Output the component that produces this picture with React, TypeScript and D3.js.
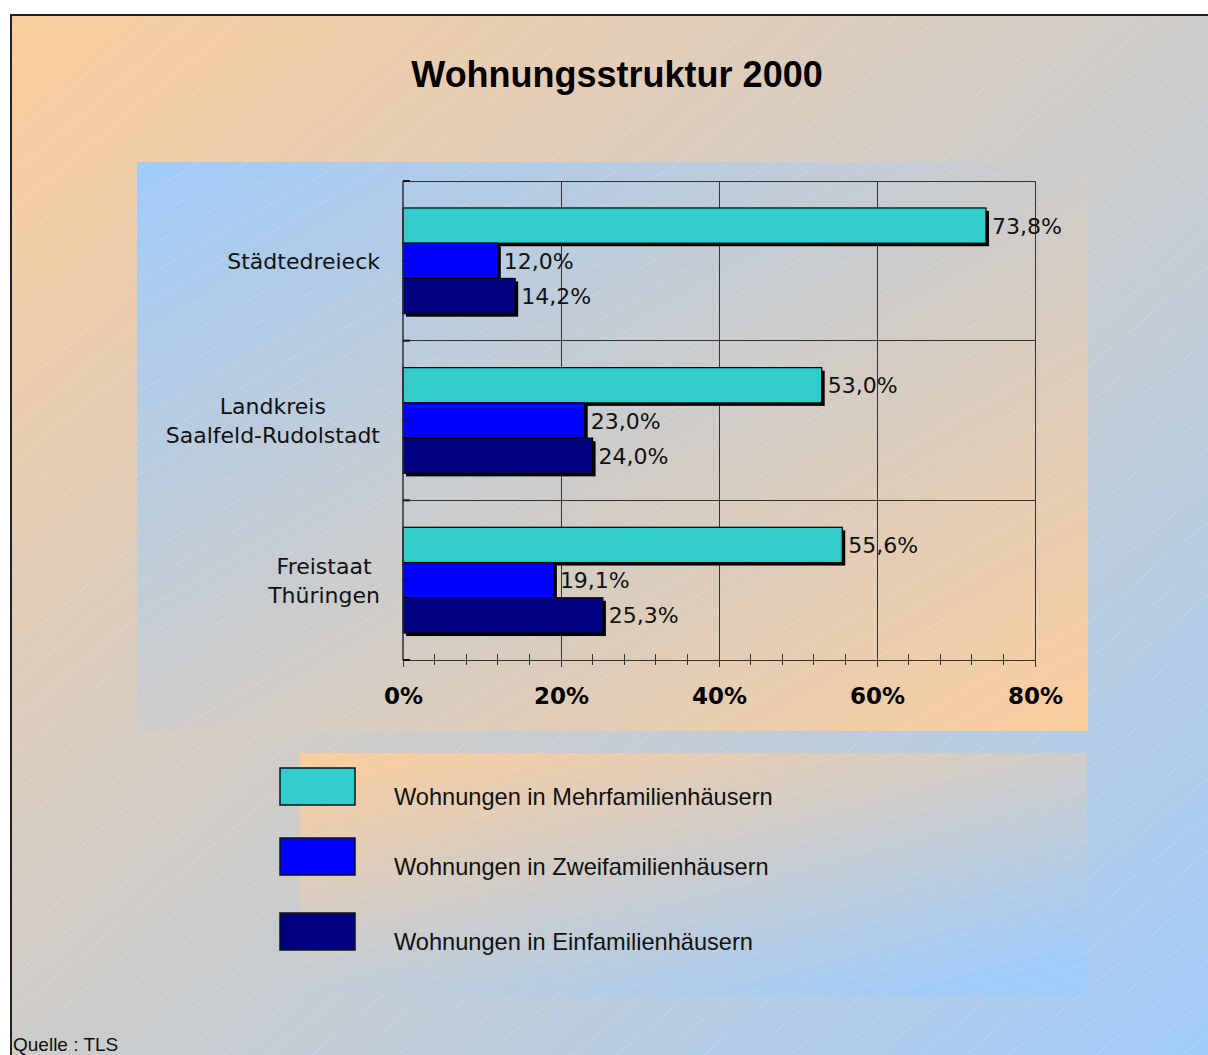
import React, { useEffect, useRef } from 'react';
import * as d3 from 'd3';

const categories = ['Städtedreieck', 'Landkreis\nSaalfeld-Rudolstadt', 'Freistaat\nThüringen'];
const seriesNames = [
  'Wohnungen in Mehrfamilienhäusern',
  'Wohnungen in Zweifamilienhäusern',
  'Wohnungen in Einfamilienhäusern'
];
const seriesColors = ['#33CCCC', '#0000FF', '#000080'];
// values per series, in category order
const mehrfamilien = [73.8, 53.0, 55.6];
const zweifamilien = [12.0, 23.0, 19.1];
const einfamilien = [14.2, 24.0, 25.3];
const seriesValues = [mehrfamilien, zweifamilien, einfamilien];
const xTicks = [0, 20, 40, 60, 80];

const W = 1208;
const H = 1055;
const PEACH = '#FBCD9C';
const BLUE = '#9FCBF9';

const fmt = (v: number) => v.toFixed(1).replace('.', ',') + '%';

const App = () => {
  const ref = useRef<SVGSVGElement>(null);

  useEffect(() => {
    const svg = d3.select(ref.current).attr('width', W).attr('height', H);
    svg.selectAll('*').remove();

    const defs = svg.append('defs');
    const grad = (id: string, c1: string, c2: string, x2: string, y2: string) => {
      const g = defs.append('linearGradient').attr('id', id)
        .attr('x1', '0').attr('y1', '0').attr('x2', x2).attr('y2', y2);
      g.append('stop').attr('offset', '0%').attr('stop-color', c1);
      g.append('stop').attr('offset', '100%').attr('stop-color', c2);
    };
    grad('bgGrad', PEACH, BLUE, '1', '1');
    grad('plotGrad', BLUE, PEACH, '1', '1');
    grad('legGrad', PEACH, BLUE, '0.8', '1');

    const hatch = (id: string, angle: number, gap: number, op: number) => {
      const p = defs.append('pattern').attr('id', id)
        .attr('patternUnits', 'userSpaceOnUse')
        .attr('width', 40).attr('height', gap)
        .attr('patternTransform', `rotate(${angle})`);
      p.append('line').attr('x1', 0).attr('x2', 40).attr('y1', 0.5).attr('y2', 0.5)
        .attr('stroke', '#fff').attr('stroke-opacity', op).attr('stroke-width', 1)
        .attr('stroke-dasharray', '3,2');
    };
    hatch('hatchBg', -40, 28, 0.2);
    hatch('hatchPlot', -30, 24, 0.2);
    hatch('hatchLeg', -15, 12, 0.15);

    // background
    svg.append('rect').attr('width', W).attr('height', H).attr('fill', '#fff');
    svg.append('rect').attr('x', 12).attr('y', 16).attr('width', W).attr('height', H)
      .attr('fill', 'url(#bgGrad)');
    svg.append('rect').attr('x', 12).attr('y', 16).attr('width', W).attr('height', H)
      .attr('fill', 'url(#hatchBg)');
    svg.append('rect').attr('x', 11).attr('y', 15).attr('width', W + 20).attr('height', H + 20)
      .attr('fill', 'none').attr('stroke', '#222').attr('stroke-width', 2);

    svg.append('text').attr('x', 617).attr('y', 87).attr('text-anchor', 'middle')
      .attr('font-family', '"Liberation Sans", Arial, sans-serif').attr('font-weight', 'bold')
      .attr('font-size', 36).attr('fill', '#000').text('Wohnungsstruktur 2000');

    // plot panel
    const panel = { x: 137, y: 162, w: 951, h: 569 };
    svg.append('rect').attr('x', panel.x).attr('y', panel.y).attr('width', panel.w).attr('height', panel.h)
      .attr('fill', 'url(#plotGrad)');
    svg.append('rect').attr('x', panel.x).attr('y', panel.y).attr('width', panel.w).attr('height', panel.h)
      .attr('fill', 'url(#hatchPlot)');

    const x = d3.scaleLinear().domain([0, 80]).range([403, 1035]);
    const y0 = d3.scaleBand<number>().domain(d3.range(categories.length)).range([181, 660]).padding(0);
    const y1 = d3.scaleBand<number>().domain(d3.range(seriesNames.length))
      .range([0, y0.bandwidth()]).paddingInner(0).paddingOuter(0.765);

    const g = svg.append('g');
    const lineColor = '#333';

    // gridlines
    xTicks.slice(1).forEach(t => {
      g.append('line').attr('x1', x(t)).attr('x2', x(t)).attr('y1', 181).attr('y2', 660)
        .attr('stroke', lineColor).attr('stroke-width', 1).attr('shape-rendering', 'crispEdges');
    });
    d3.range(categories.length).forEach(i => {
      const yy = y0(i)!;
      g.append('line').attr('x1', x(0)).attr('x2', x(80)).attr('y1', yy).attr('y2', yy)
        .attr('stroke', lineColor).attr('stroke-width', 1).attr('shape-rendering', 'crispEdges');
    });

    // bars
    d3.range(categories.length).forEach(ci => {
      seriesValues.forEach((vals, si) => {
        const v = vals[ci];
        const by = y0(ci)! + y1(si)!;
        const bh = y1.bandwidth();
        const bw = x(v) - x(0);
        g.append('rect').attr('x', x(0) + 3).attr('y', by + 3).attr('width', bw).attr('height', bh)
          .attr('fill', '#000');
        g.append('rect').attr('x', x(0)).attr('y', by).attr('width', bw).attr('height', bh)
          .attr('fill', seriesColors[si]).attr('stroke', '#000').attr('stroke-width', 1.2);
        g.append('text').attr('x', x(v) + 6).attr('y', by + bh / 2 + 8)
          .attr('font-family', '"DejaVu Sans", Verdana, sans-serif').attr('font-size', 22)
          .attr('fill', '#111').text(fmt(v));
      });
    });

    // x axis
    const xAxis = d3.axisBottom(x).tickValues(xTicks).tickSizeInner(7).tickSizeOuter(0)
      .tickPadding(20).tickFormat(d => `${d}%`);
    const ax = g.append('g').attr('transform', 'translate(0,660)').call(xAxis);
    ax.select('.domain').attr('stroke', lineColor);
    ax.selectAll('.tick line').attr('stroke', lineColor);
    ax.selectAll('.tick text').attr('font-family', '"DejaVu Sans", Verdana, sans-serif')
      .attr('font-weight', 'bold').attr('font-size', 23).attr('fill', '#000').attr('dy', '0.72em');
    d3.range(0, 81, 4).filter(t => t % 20 !== 0).forEach(t => {
      g.append('line').attr('x1', x(t)).attr('x2', x(t)).attr('y1', 654).attr('y2', 665)
        .attr('stroke', lineColor).attr('stroke-width', 1).attr('shape-rendering', 'crispEdges');
    });

    // y axis
    g.append('line').attr('x1', x(0)).attr('x2', x(0)).attr('y1', 181).attr('y2', 660)
      .attr('stroke', lineColor).attr('stroke-width', 1.5);
    [...d3.range(categories.length).map(i => y0(i)!), 660].forEach(yy => {
      g.append('line').attr('x1', x(0)).attr('x2', x(0) + 7).attr('y1', yy).attr('y2', yy)
        .attr('stroke', '#111').attr('stroke-width', 2);
    });
    d3.range(categories.length).forEach(i => {
      const yy = y0(i)! + y0.bandwidth() / 2;
      g.append('line').attr('x1', x(0)).attr('x2', x(0) + 5).attr('y1', yy).attr('y2', yy)
        .attr('stroke', '#111').attr('stroke-width', 1);
    });

    // category labels
    const rightEdge = 380;
    categories.forEach((c, i) => {
      const lines = c.split('\n');
      const cy = y0(i)! + y0.bandwidth() / 2;
      const t = g.append('text').attr('font-family', '"DejaVu Sans", Verdana, sans-serif')
        .attr('font-size', 22).attr('fill', '#111').attr('text-anchor', 'middle');
      const spans = lines.map((l, li) =>
        t.append('tspan').attr('y', cy + 8 + (li - (lines.length - 1) / 2) * 29).text(l));
      const wMax = Math.max(...spans.map(s => (s.node() as SVGTSpanElement).getComputedTextLength()));
      spans.forEach(s => s.attr('x', rightEdge - wMax / 2));
    });

    // legend panel
    const leg = { x: 300, y: 753, w: 787, h: 242 };
    svg.append('rect').attr('x', leg.x).attr('y', leg.y).attr('width', leg.w).attr('height', leg.h)
      .attr('fill', 'url(#legGrad)');
    svg.append('rect').attr('x', leg.x).attr('y', leg.y).attr('width', leg.w).attr('height', leg.h)
      .attr('fill', 'url(#hatchLeg)');
    const legY = d3.scaleOrdinal<number, number>().domain(d3.range(3)).range([787, 857, 932]);
    seriesNames.forEach((n, i) => {
      const cy = legY(i);
      svg.append('rect').attr('x', 280).attr('y', cy - 19).attr('width', 75).attr('height', 37)
        .attr('fill', seriesColors[i]).attr('stroke', '#111').attr('stroke-width', 1.5);
      svg.append('text').attr('x', 394).attr('y', cy + 18)
        .attr('font-family', '"Liberation Sans", Arial, sans-serif').attr('font-size', 23.6)
        .attr('fill', '#111').text(n);
    });

    svg.append('text').attr('x', 13).attr('y', 1051)
      .attr('font-family', '"Liberation Sans", Arial, sans-serif').attr('font-size', 19)
      .attr('fill', '#111').text('Quelle : TLS');
  }, []);

  return <svg ref={ref} style={{ position: 'absolute', left: 0, top: 0, display: 'block' }} />;
};

export default App;
